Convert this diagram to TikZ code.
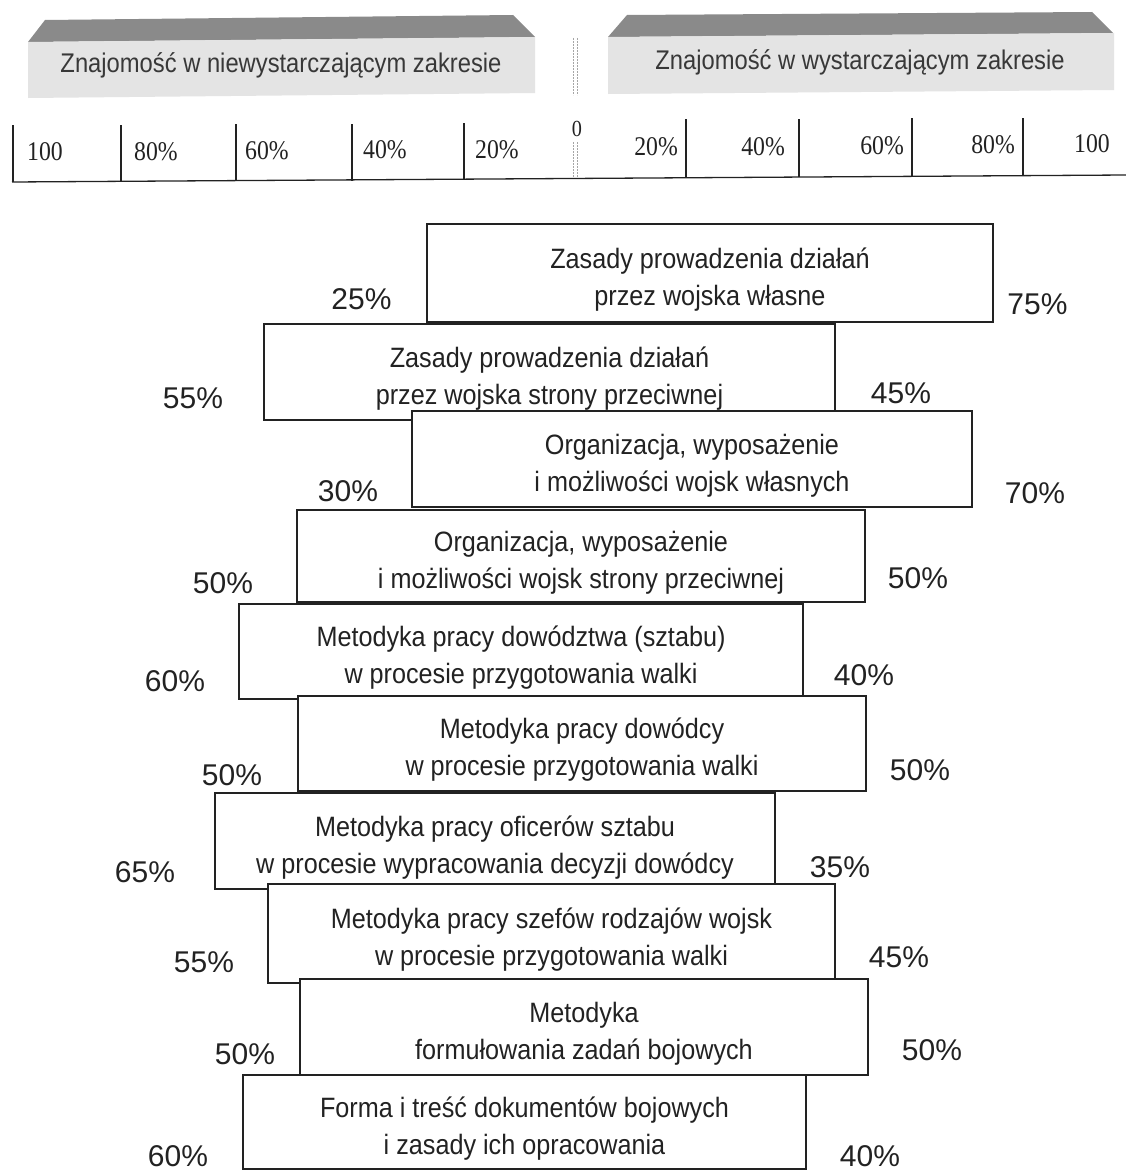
\documentclass[tikz,border=0pt]{standalone}
\usepackage{fontspec}
\setmainfont{Liberation Serif}
\newfontfamily\pctfont{Liberation Sans}
\newfontfamily\boxfont[FakeStretch=0.9]{Liberation Sans}
\newfontfamily\headfont[FakeStretch=0.88]{Liberation Sans}
\newfontfamily\scalefont[FakeStretch=0.88]{Liberation Serif}
\definecolor{ink}{HTML}{222222}
\definecolor{darkbar}{HTML}{8A8A8A}
\definecolor{lightbar}{HTML}{E4E4E4}
\newcommand\topstrut{\rule{0pt}{27pt}}
\newcommand\botstrut{\rule[-7pt]{0pt}{7pt}}
\begin{document}
\begin{tikzpicture}[x=1pt,y=-1pt,
  box/.style={draw=ink, line width=1.6pt, fill=white, inner sep=0pt, rectangle},
  boxtext/.style={align=center, inner sep=0pt, text=ink, yshift=-3.5pt,
    font=\boxfont\fontsize{28}{37}\selectfont},
  pct/.style={anchor=base, inner sep=0pt, text=ink, font=\pctfont\fontsize{30}{36}\selectfont},
  scl/.style={inner sep=0pt, text=ink, font=\scalefont\fontsize{27}{32}\selectfont},
  hdr/.style={anchor=base, inner sep=0pt, text=ink!90, font=\headfont\fontsize{27}{32}\selectfont},
  divider/.style={draw=gray!70, line width=0.9pt, dash pattern=on 2pt off 1pt},
  scaleline/.style={draw=ink, line width=1.3pt},
]
\useasboundingbox[fill=white] (0,0) rectangle (1126,1172);

% ---- header bars
\fill[darkbar] (45,20) -- (513,15) -- (535,37) -- (28,42) -- cycle;
\fill[lightbar] (28,42) -- (535,37) -- (535,93) -- (28,98) -- cycle;
\fill[darkbar] (627,15) -- (1092,12) -- (1113,33) -- (608,37) -- cycle;
\fill[lightbar] (608,37) -- (1114,33) -- (1114,90) -- (608,94) -- cycle;
\node[hdr] (h1) at (281,73) {Znajomość w niewystarczającym zakresie};
\node[hdr] (h2) at (860,70) {Znajomość w wystarczającym zakresie};

% ---- divider
\draw[divider] (573,38) -- (573,95);
\draw[divider] (577,38) -- (577,95);
\draw[divider] (573,142) -- (573,177);
\draw[divider] (577,142) -- (577,177);

% ---- scale
\draw[scaleline] (12,182) -- (1126,175);
\foreach \x/\ya/\yb in {13/125/182, 121/125/182, 236/124/181, 352/124/181, 464/123/180,
  686/119/177, 799/119/177, 912/118/176, 1023/118/175}
  \draw[scaleline] (\x,\ya) -- (\x,\yb);
\node[scl, anchor=base west] (sl100) at (27,160) {100};
\node[scl, anchor=base west] (sl80) at (134,160) {80\%};
\node[scl, anchor=base west] (sl60) at (245,159) {60\%};
\node[scl, anchor=base west] (sl40) at (363,158) {40\%};
\node[scl, anchor=base west] (sl20) at (475,158) {20\%};
\node[inner sep=0pt, text=ink, anchor=base, font=\scalefont\fontsize{23}{28}\selectfont] (s0) at (577,136) {0};
\node[scl, anchor=base east] (sr20) at (678,155) {20\%};
\node[scl, anchor=base east] (sr40) at (785,155) {40\%};
\node[scl, anchor=base east] (sr60) at (904,154) {60\%};
\node[scl, anchor=base east] (sr80) at (1015,153) {80\%};
\node[scl, anchor=base east] (sr100) at (1110,152) {100};

% ---- boxes
\node[box, minimum width=566pt, minimum height=98pt] (b1) at (710,273) {};
\node[boxtext] (t1) at (b1.center) {\topstrut Zasady prowadzenia działań\\przez wojska własne\botstrut};
\node[pct] (l1) at (361.5,309) {25\%};
\node[pct] (r1) at (1037.5,314) {75\%};

\node[box, minimum width=571pt, minimum height=96pt] (b2) at (549.5,372) {};
\node[boxtext] (t2) at (b2.center) {\topstrut Zasady prowadzenia działań\\przez wojska strony przeciwnej\botstrut};
\node[pct] (l2) at (193,408) {55\%};
\node[pct] (r2) at (901,403) {45\%};

\node[box, minimum width=560pt, minimum height=96pt] (b3) at (692,459) {};
\node[boxtext] (t3) at (b3.center) {\topstrut Organizacja, wyposażenie\\i możliwości wojsk własnych\botstrut};
\node[pct] (l3) at (348,501) {30\%};
\node[pct] (r3) at (1035,503) {70\%};

\node[box, minimum width=568pt, minimum height=92pt] (b4) at (581,556) {};
\node[boxtext] (t4) at (b4.center) {\topstrut Organizacja, wyposażenie\\i możliwości wojsk strony przeciwnej\botstrut};
\node[pct] (l4) at (223,593) {50\%};
\node[pct] (r4) at (918,588) {50\%};

\node[box, minimum width=564pt, minimum height=95pt] (b5) at (521,651.5) {};
\node[boxtext] (t5) at (b5.center) {\topstrut Metodyka pracy dowództwa (sztabu)\\w procesie przygotowania walki\botstrut};
\node[pct] (l5) at (175,691) {60\%};
\node[pct] (r5) at (864,685) {40\%};

\node[box, minimum width=568pt, minimum height=95pt] (b6) at (582,743.5) {};
\node[boxtext] (t6) at (b6.center) {\topstrut Metodyka pracy dowódcy\\w procesie przygotowania walki\botstrut};
\node[pct] (l6) at (232,785) {50\%};
\node[pct] (r6) at (920,780) {50\%};

\node[box, minimum width=560pt, minimum height=96pt] (b7) at (495,841) {};
\node[boxtext] (t7) at (b7.center) {\topstrut Metodyka pracy oficerów sztabu\\w procesie wypracowania decyzji dowódcy\botstrut};
\node[pct] (l7) at (145,882) {65\%};
\node[pct] (r7) at (840,877) {35\%};

\node[box, minimum width=567pt, minimum height=99pt] (b8) at (551.5,933.5) {};
\node[boxtext] (t8) at (b8.center) {\topstrut Metodyka pracy szefów rodzajów wojsk\\w procesie przygotowania walki\botstrut};
\node[pct] (l8) at (204,972) {55\%};
\node[pct] (r8) at (899,967) {45\%};

\node[box, minimum width=568pt, minimum height=96pt] (b9) at (584,1027) {};
\node[boxtext] (t9) at (b9.center) {\topstrut Metodyka\\formułowania zadań bojowych\botstrut};
\node[pct] (l9) at (245,1064) {50\%};
\node[pct] (r9) at (932,1060) {50\%};

\node[box, minimum width=563pt, minimum height=94pt] (b10) at (524.5,1122) {};
\node[boxtext] (t10) at (b10.center) {\topstrut Forma i treść dokumentów bojowych\\i zasady ich opracowania\botstrut};
\node[pct] (l10) at (178,1166) {60\%};
\node[pct] (r10) at (870,1166) {40\%};
\end{tikzpicture}
\end{document}
